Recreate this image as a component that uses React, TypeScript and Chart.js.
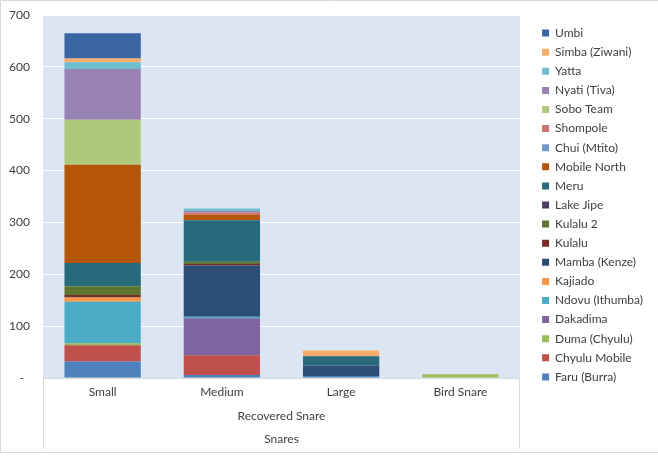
import { useEffect, useRef } from "react";
import { Chart, registerables, type Plugin } from "chart.js";

Chart.register(...registerables);

const categories = ["Small", "Medium", "Large", "Bird Snare"];
const axisTitle = ["Recovered Snare", "Snares"];

// values per category: Small, Medium, Large, Bird Snare (bottom of the stack first)
const faruBurra = [32, 6, 4, 0];
const chyuluMobile = [31, 38, 0, 0];
const dumaChyulu = [4, 0, 0, 7];
const dakadima = [0, 71, 0, 0];
const ndovuIthumba = [80, 3, 0, 0];
const kajiado = [8, 0, 0, 0];
const mambaKenze = [0, 99, 20, 0];
const kulalu = [5, 3, 0, 0];
const kulalu2 = [17, 4, 0, 0];
const lakeJipe = [0, 0, 0, 0];
const meru = [45, 80, 18, 0];
const mobileNorth = [189, 11, 0, 0];
const chuiMtito = [0, 0, 0, 0];
const shompole = [0, 4, 0, 0];
const soboTeam = [87, 0, 0, 0];
const nyatiTiva = [98, 3, 0, 0];
const yatta = [13, 5, 0, 0];
const simbaZiwani = [7, 0, 11, 0];
const umbi = [49, 0, 0, 0];

const series = [
  { label: "Faru (Burra)", data: faruBurra, color: "#4F81BD" },
  { label: "Chyulu Mobile", data: chyuluMobile, color: "#C0504D" },
  { label: "Duma (Chyulu)", data: dumaChyulu, color: "#9BBB59" },
  { label: "Dakadima", data: dakadima, color: "#8064A2" },
  { label: "Ndovu (Ithumba)", data: ndovuIthumba, color: "#4BACC6" },
  { label: "Kajiado", data: kajiado, color: "#F79646" },
  { label: "Mamba (Kenze)", data: mambaKenze, color: "#2C4D75" },
  { label: "Kulalu", data: kulalu, color: "#772C2A" },
  { label: "Kulalu 2", data: kulalu2, color: "#5F7530" },
  { label: "Lake Jipe", data: lakeJipe, color: "#4D3B62" },
  { label: "Meru", data: meru, color: "#276A7C" },
  { label: "Mobile North", data: mobileNorth, color: "#B65708" },
  { label: "Chui (Mtito)", data: chuiMtito, color: "#729ACA" },
  { label: "Shompole", data: shompole, color: "#CD7371" },
  { label: "Sobo Team", data: soboTeam, color: "#AFC97A" },
  { label: "Nyati (Tiva)", data: nyatiTiva, color: "#9983B5" },
  { label: "Yatta", data: yatta, color: "#6FBDD1" },
  { label: "Simba (Ziwani)", data: simbaZiwani, color: "#F9AB6B" },
  { label: "Umbi", data: umbi, color: "#3A67A3" },
];

const plotBackground: Plugin<"bar"> = {
  id: "plotBackground",
  beforeDraw(chart) {
    const { ctx, chartArea: a } = chart;
    ctx.save();
    ctx.fillStyle = "#dce6f2";
    ctx.fillRect(a.left, a.top, a.width, a.height);
    ctx.restore();
  },
};

// fixed legend column like the spreadsheet one
const legendBox: Plugin<"bar"> = {
  id: "legendBox",
  afterInit(chart) {
    const legend: any = (chart as any).legend;
    if (!legend) return;
    const fit = legend.fit.bind(legend);
    legend.fit = () => {
      fit();
      legend.width = 138;
    };
  },
  afterLayout(chart) {
    const legend: any = (chart as any).legend;
    if (!legend) return;
    legend.left = 535;
    legend.right = 673;
    legend.top = 20;
  },
};

const frame: Plugin<"bar"> = {
  id: "frame",
  afterDraw(chart) {
    const { ctx, chartArea: a, width } = chart;
    const x = chart.scales.x;
    ctx.save();
    ctx.strokeStyle = "#d9d9d9";
    ctx.lineWidth = 1;
    ctx.beginPath();
    ctx.moveTo(Math.round(a.left) + 0.5, a.bottom);
    ctx.lineTo(Math.round(a.left) + 0.5, x.bottom - 2);
    ctx.moveTo(Math.round(a.right) - 0.5, a.bottom);
    ctx.lineTo(Math.round(a.right) - 0.5, x.bottom - 2);
    ctx.moveTo(0.5, 452.5);
    ctx.lineTo(0.5, 0.5);
    ctx.lineTo(width, 0.5);
    ctx.moveTo(0, 452.5);
    ctx.lineTo(width, 452.5);
    ctx.stroke();
    ctx.restore();
  },
};

export default function App() {
  const canvasRef = useRef<HTMLCanvasElement>(null);

  useEffect(() => {
    document.body.style.margin = "0";
    if (!canvasRef.current) return;

    Chart.defaults.font.family = "Lato, 'Open Sans', sans-serif";
    Chart.defaults.font.size = 12;
    Chart.defaults.color = "#404040";

    const chart = new Chart(canvasRef.current, {
      type: "bar",
      data: {
        labels: categories,
        datasets: series.map((s) => ({
          label: s.label,
          data: s.data,
          backgroundColor: s.color,
          borderWidth: 0,
          barPercentage: 0.64,
          categoryPercentage: 1,
        })),
      },
      options: {
        animation: false,
        responsive: true,
        maintainAspectRatio: false,
        layout: { padding: { top: 15, left: 0, right: 0, bottom: 5.5 } },
        plugins: {
          legend: {
            position: "right",
            align: "start",
            reverse: true,
            labels: {
              boxWidth: 7,
              boxHeight: 7,
              padding: 7.1,
              color: "#404040",
              font: { size: 12 },
            },
          },
          tooltip: { enabled: false },
        },
        scales: {
          x: {
            stacked: true,
            afterFit: (scale) => {
              scale.height = 72.5;
            },
            grid: { display: false, drawTicks: false },
            border: { display: true, color: "#d9d9d9" },
            ticks: { padding: 7, color: "#404040", font: { size: 12 } },
            title: {
              display: true,
              text: axisTitle,
              color: "#404040",
              font: { size: 12, lineHeight: 23 / 12 },
              padding: { top: 5, bottom: 0 },
            },
          },
          y: {
            stacked: true,
            min: 0,
            max: 700,
            afterFit: (scale) => {
              scale.width = 43;
            },
            grid: {
              color: "#ffffff",
              lineWidth: 1,
              drawTicks: true,
              tickLength: 13,
              tickColor: "rgba(0,0,0,0)",
            },
            border: { display: false },
            ticks: {
              stepSize: 100,
              padding: 0,
              color: "#404040",
              font: { size: 12 },
              callback: (v) => (Number(v) === 0 ? "-  " : String(v)),
            },
          },
        },
      },
      plugins: [plotBackground, legendBox, frame],
    });

    return () => chart.destroy();
  }, []);

  return (
    <div style={{ position: "relative", width: 658, height: 456, background: "#ffffff" }}>
      <canvas ref={canvasRef} />
    </div>
  );
}
